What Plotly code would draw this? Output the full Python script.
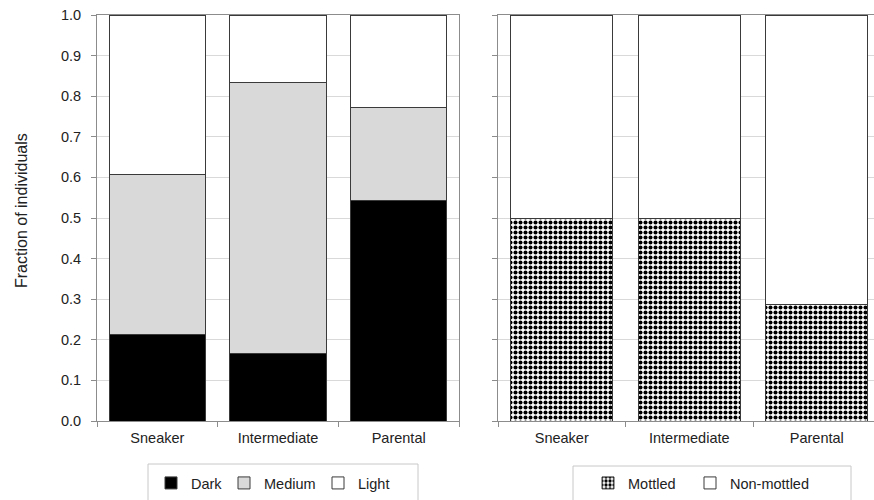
import plotly.graph_objects as go

categories = ["Sneaker", "Intermediate", "Parental"]
dark = [0.214, 0.167, 0.543]
medium = [0.393, 0.667, 0.229]
light = [0.393, 0.166, 0.228]
mottled = [0.500, 0.500, 0.286]
non_mottled = [0.500, 0.500, 0.714]
y_ticks = [0.0, 0.1, 0.2, 0.3, 0.4, 0.5, 0.6, 0.7, 0.8, 0.9, 1.0]
y_ticklabels = [f"{v:.1f}" for v in y_ticks]

W, H = 874, 500
FONT = "Liberation Sans, Arial, sans-serif"
TXT = "#222222"
EDGE = "#3a3a3a"
GRID = "#d9d9d9"
AXIS = "#8c8c8c"

fig = go.Figure()

line = dict(color=EDGE, width=1)
fig.add_trace(go.Bar(x=categories, y=dark, name="Dark", marker=dict(color="black", line=line),
                     xaxis="x", yaxis="y", legend="legend", showlegend=True))
fig.add_trace(go.Bar(x=categories, y=medium, name="Medium", marker=dict(color="#d9d9d9", line=line),
                     xaxis="x", yaxis="y", legend="legend2", showlegend=True))
fig.add_trace(go.Bar(x=categories, y=light, name="Light", marker=dict(color="white", line=line),
                     xaxis="x", yaxis="y", legend="legend3", showlegend=True))
fig.add_trace(go.Bar(x=categories, y=mottled, name="Mottled",
                     marker=dict(color="white", line=line,
                                 pattern=dict(shape=".", fgcolor="black", bgcolor="white",
                                              size=5, solidity=0.52, fillmode="replace")),
                     xaxis="x2", yaxis="y2", legend="legend4", showlegend=True))
fig.add_trace(go.Bar(x=categories, y=non_mottled, name="Non-mottled", marker=dict(color="white", line=line),
                     xaxis="x2", yaxis="y2", legend="legend5", showlegend=True))

ydom = [1 - 421 / H, 1 - 15 / H]
xcommon = dict(type="category", tickson="boundaries", ticks="outside", ticklen=5, tickcolor=AXIS,
               showline=True, linecolor=AXIS, linewidth=1, mirror=True, showgrid=False,
               tickfont=dict(family=FONT, size=14.5, color=TXT), categoryorder="array",
               categoryarray=categories, fixedrange=True, automargin=False, ticklabelstandoff=4)
ycommon = dict(range=[0, 1], tickvals=y_ticks, ticks="outside", ticklen=5, tickcolor=AXIS,
               showline=True, linecolor=AXIS, linewidth=1, showgrid=True, gridcolor=GRID,
               gridwidth=1, zeroline=False, domain=ydom, fixedrange=True, automargin=False)


def leg(text_x):
    return dict(orientation="h", x=(text_x - 40) / W, xanchor="left", y=1 - 483 / H, yanchor="middle",
                bgcolor="rgba(0,0,0,0)", borderwidth=0, visible=True,
                font=dict(family=FONT, size=14.5, color=TXT))


fig.update_layout(
    width=W, height=H,
    margin=dict(l=0, r=0, t=0, b=0, autoexpand=False),
    paper_bgcolor="white", plot_bgcolor="white",
    showlegend=True,
    barmode="stack", bargap=0.2,
    font=dict(family=FONT, size=14.5, color=TXT),
    xaxis=dict(domain=[97 / W, 459 / W], anchor="y", range=[-0.5, 2.5], **xcommon),
    yaxis=dict(anchor="x", ticktext=y_ticklabels, tickfont=dict(family=FONT, size=14.5, color=TXT),
               ticklabelstandoff=7, mirror=True, **ycommon),
    xaxis2=dict(domain=[498 / W, 1], anchor="y2", range=[-0.5, -0.5 + 376 / 127.5], **xcommon),
    yaxis2=dict(anchor="x2", showticklabels=False, mirror=False, **ycommon),
    legend=leg(191), legend2=leg(264), legend3=leg(358),
    legend4=leg(628), legend5=leg(730),
    annotations=[dict(text="Fraction of individuals", xref="paper", yref="paper",
                      x=22 / W, y=1 - 211 / H, textangle=-90, showarrow=False,
                      xanchor="center", yanchor="middle",
                      font=dict(family=FONT, size=16, color=TXT))],
    shapes=[
        dict(type="rect", xref="paper", yref="paper", x0=148 / W, x1=418 / W,
             y0=-0.05, y1=1 - 464 / H, line=dict(color="#c8c8c8", width=1), fillcolor="rgba(0,0,0,0)",
             layer="below"),
        dict(type="rect", xref="paper", yref="paper", x0=573 / W, x1=851 / W,
             y0=-0.05, y1=1 - 466 / H, line=dict(color="#c8c8c8", width=1), fillcolor="rgba(0,0,0,0)",
             layer="below"),
    ],
)

fig.write_html("out.html", config={"displayModeBar": False},
               post_script="document.body.style.margin='0';")
